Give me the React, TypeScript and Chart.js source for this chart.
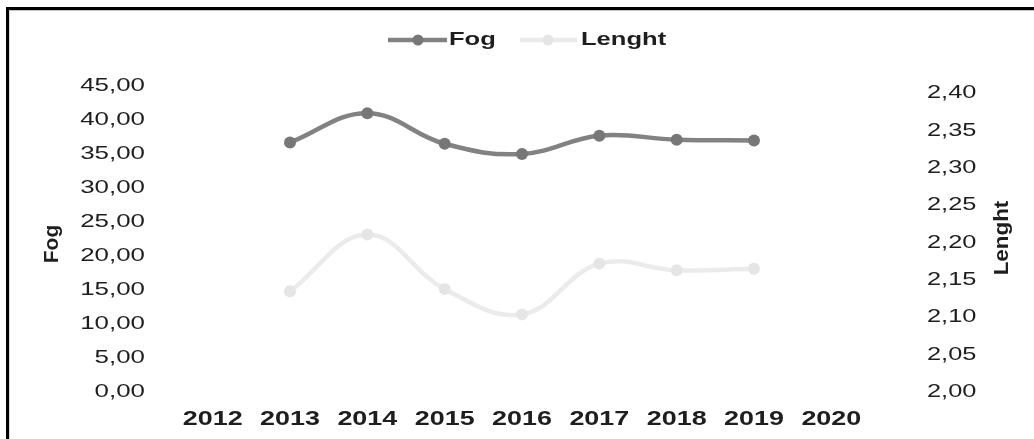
import React, { useEffect, useRef } from "react";
import { Chart, registerables } from "chart.js";

Chart.register(...registerables);

const categories = ["2012", "2013", "2014", "2015", "2016", "2017", "2018", "2019", "2020"];
const fogValues = [null, 36.7, 41.0, 36.5, 35.0, 37.7, 37.1, 37.0, null];
const lenghtValues = [null, 2.135, 2.211, 2.138, 2.104, 2.172, 2.163, 2.165, null];
const fogTicks = [0, 5, 10, 15, 20, 25, 30, 35, 40, 45];
const lenghtTicks = [2.0, 2.05, 2.1, 2.15, 2.2, 2.25, 2.3, 2.35, 2.4];
const seriesNames = ["Fog", "Lenght"];

const FONT = '"Liberation Sans", Arial, Helvetica, sans-serif';
const FOG_LINE = "#828282";
const FOG_POINT = "#777777";
const LEN_LINE = "#ebebeb";
const LEN_POINT = "#e5e5e5";
const TEXT = "#1e1e1e";

const fmt = (v: number) => v.toFixed(2).replace(".", ",");

function stretchText(ctx: CanvasRenderingContext2D, text: string, x: number, y: number, sx: number, align: CanvasTextAlign) {
  ctx.save();
  ctx.translate(x, y);
  ctx.scale(sx, 1);
  ctx.textAlign = align;
  ctx.fillText(text, 0, 0);
  ctx.restore();
}

const textPlugin = {
  id: "textPlugin",
  afterDraw(chart: any) {
    const ctx: CanvasRenderingContext2D = chart.ctx;
    ctx.save();
    ctx.fillStyle = TEXT;
    ctx.textBaseline = "middle";

    // left axis ticks
    ctx.font = `17.5px ${FONT}`;
    const y = chart.scales.y;
    y.ticks.forEach((t: any, i: number) => {
      stretchText(ctx, fmt(t.value), 145, y.getPixelForTick(i), 1.48, "right");
    });
    const y2 = chart.scales.y2;
    y2.ticks.forEach((t: any, i: number) => {
      stretchText(ctx, fmt(t.value), 927, y2.getPixelForTick(i), 1.45, "left");
    });

    // x labels
    ctx.font = `bold 19.5px ${FONT}`;
    const x = chart.scales.x;
    x.ticks.forEach((t: any, i: number) => {
      stretchText(ctx, String(x.getLabelForValue(t.value)), x.getPixelForTick(i), 420, 1.38, "center");
    });

    // axis titles
    ctx.font = `bold 20px ${FONT}`;
    ctx.textAlign = "center";
    ctx.save();
    ctx.translate(52, 244);
    ctx.rotate(-Math.PI / 2);
    ctx.scale(1.05, 1);
    ctx.fillText(seriesNames[0], 0, 0);
    ctx.restore();
    ctx.save();
    ctx.translate(1002, 238);
    ctx.rotate(-Math.PI / 2);
    ctx.scale(1.12, 1);
    ctx.fillText(seriesNames[1], 0, 0);
    ctx.restore();

    // legend
    const legend = [
      { x0: 388, x1: 447, dot: 418, tx: 449, line: FOG_LINE, point: FOG_POINT, name: seriesNames[0] },
      { x0: 520, x1: 577, dot: 548, tx: 581, line: LEN_LINE, point: LEN_POINT, name: seriesNames[1] },
    ];
    const ly = 40;
    legend.forEach((l) => {
      ctx.strokeStyle = l.line;
      ctx.lineWidth = 4.5;
      ctx.beginPath();
      ctx.moveTo(l.x0, ly);
      ctx.lineTo(l.x1, ly);
      ctx.stroke();
      ctx.fillStyle = l.point;
      ctx.beginPath();
      ctx.arc(l.dot, ly, 5.5, 0, Math.PI * 2);
      ctx.fill();
      ctx.fillStyle = TEXT;
      ctx.font = `bold 18px ${FONT}`;
      stretchText(ctx, l.name, l.tx, ly, 1.42, "left");
    });
    ctx.restore();
  },
};

export default function App() {
  const ref = useRef<HTMLCanvasElement | null>(null);

  useEffect(() => {
    if (!ref.current) return;
    const chart = new Chart(ref.current, {
      type: "line",
      data: {
        labels: categories,
        datasets: [
          {
            label: seriesNames[0],
            data: fogValues,
            yAxisID: "y",
            borderColor: FOG_LINE,
            backgroundColor: FOG_POINT,
            pointBackgroundColor: FOG_POINT,
            pointBorderWidth: 0,
            pointRadius: 6,
            borderWidth: 4.5,
            tension: 0.4,
          },
          {
            label: seriesNames[1],
            data: lenghtValues,
            yAxisID: "y2",
            borderColor: LEN_LINE,
            backgroundColor: LEN_POINT,
            pointBackgroundColor: LEN_POINT,
            pointBorderWidth: 0,
            pointRadius: 6,
            borderWidth: 4.5,
            tension: 0.4,
          },
        ],
      },
      options: {
        responsive: false,
        animation: false,
        layout: { padding: { top: 86, left: 0, right: 0, bottom: 0 } },
        plugins: { legend: { display: false }, tooltip: { enabled: false }, title: { display: false } },
        scales: {
          x: {
            type: "category",
            offset: true,
            grid: { display: false },
            border: { display: false },
            ticks: { display: false },
            afterFit: (s: any) => {
              s.height = 47;
            },
          },
          y: {
            type: "linear",
            position: "left",
            min: 0,
            max: 45,
            grid: { display: false },
            border: { display: false },
            ticks: { display: false, stepSize: 5 },
            afterBuildTicks: (s: any) => {
              s.ticks = fogTicks.map((v) => ({ value: v }));
            },
            afterFit: (s: any) => {
              s.width = 174;
            },
          },
          y2: {
            type: "linear",
            position: "right",
            min: 2.0,
            max: 2.41,
            grid: { display: false },
            border: { display: false },
            ticks: { display: false, stepSize: 0.05 },
            afterBuildTicks: (s: any) => {
              s.ticks = lenghtTicks.map((v) => ({ value: v }));
            },
            afterFit: (s: any) => {
              s.width = 164;
            },
          },
        },
      },
      plugins: [textPlugin],
    } as any);
    return () => chart.destroy();
  }, []);

  return (
    <div style={{ position: "fixed", left: 0, top: 0, width: 1034, height: 439, background: "#fff", overflow: "hidden" }}>
      <div
        style={{
          position: "absolute",
          left: 6,
          top: 7,
          width: 1040,
          height: 440,
          borderTop: "3px solid #000",
          borderLeft: "3px solid #000",
          boxSizing: "border-box",
        }}
      >
        <div
          style={{
            position: "absolute",
            left: 0,
            top: 0,
            right: 0,
            bottom: 0,
            borderTop: "1px solid #c4c4c4",
            borderLeft: "1px solid #d8d8d8",
          }}
        />
      </div>
      <canvas ref={ref} width={1034} height={439} style={{ position: "absolute", left: 0, top: 0 }} />
    </div>
  );
}
